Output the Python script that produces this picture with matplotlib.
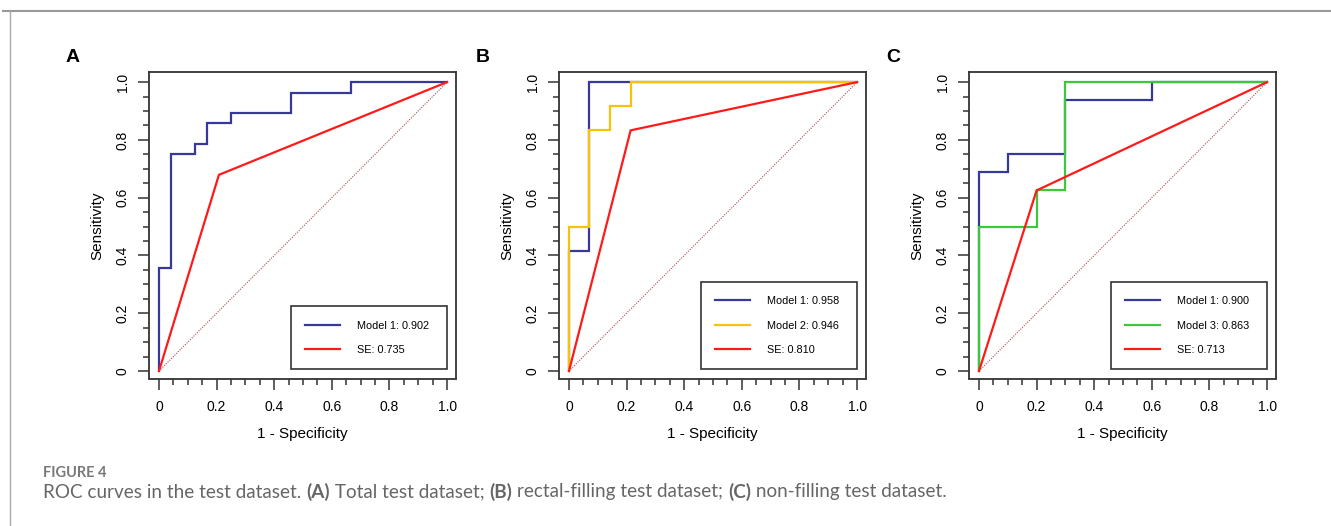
import matplotlib
matplotlib.use("Agg")
import matplotlib.pyplot as plt
from matplotlib.lines import Line2D
import numpy as np

plt.rcParams['font.family'] = ['Liberation Sans', 'DejaVu Sans']

# ---- data (1 - specificity, sensitivity) ----
# panel A: total test dataset
a_m1_fpr = [0, 0, 0.042, 0.042, 0.125, 0.125, 0.167, 0.167, 0.25, 0.25, 0.458, 0.458, 0.667, 0.667, 1.0]
a_m1_tpr = [0, 0.357, 0.357, 0.75, 0.75, 0.786, 0.786, 0.857, 0.857, 0.893, 0.893, 0.964, 0.964, 1.0, 1.0]
a_se_fpr = [0, 0.208, 1.0]
a_se_tpr = [0, 0.679, 1.0]

# panel B: rectal-filling test dataset
b_m1_fpr = [0, 0, 0.071, 0.071, 1.0]
b_m1_tpr = [0, 0.417, 0.417, 1.0, 1.0]
b_m2_fpr = [0, 0, 0.071, 0.071, 0.143, 0.143, 0.214, 0.214, 1.0]
b_m2_tpr = [0, 0.5, 0.5, 0.833, 0.833, 0.917, 0.917, 1.0, 1.0]
b_se_fpr = [0, 0.214, 1.0]
b_se_tpr = [0, 0.833, 1.0]

# panel C: non-filling test dataset
c_m1_fpr = [0, 0, 0.1, 0.1, 0.3, 0.3, 0.6, 0.6, 1.0]
c_m1_tpr = [0, 0.6875, 0.6875, 0.75, 0.75, 0.9375, 0.9375, 1.0, 1.0]
c_m3_fpr = [0, 0, 0.2, 0.2, 0.3, 0.3, 1.0]
c_m3_tpr = [0, 0.5, 0.5, 0.625, 0.625, 1.0, 1.0]
c_se_fpr = [0, 0.2, 1.0]
c_se_tpr = [0, 0.625, 1.0]

auc_labels_a = ["Model 1: 0.902", "SE: 0.735"]
auc_labels_b = ["Model 1: 0.958", "Model 2: 0.946", "SE: 0.810"]
auc_labels_c = ["Model 1: 0.900", "Model 3: 0.863", "SE: 0.713"]

panel_letters = ["A", "B", "C"]
major_ticks = [0, 0.2, 0.4, 0.6, 0.8, 1.0]
tick_labels = ["0", "0.2", "0.4", "0.6", "0.8", "1.0"]

BLUE = '#36399a'
GOLD = '#f9c20a'
GREEN = '#3cc83c'
RED = '#ff1a1a'
DIAG = '#a85050'
DARK = '#333333'

fig = plt.figure(figsize=(13.31, 5.26), dpi=100)

lefts = [149 / 1331, 559 / 1331, 969 / 1331]
bottom = (526 - 378.5) / 526
width = 307 / 1331
height = 306.5 / 526

panels = [
    [(a_m1_fpr, a_m1_tpr, BLUE), (a_se_fpr, a_se_tpr, RED)],
    [(b_m1_fpr, b_m1_tpr, BLUE), (b_m2_fpr, b_m2_tpr, GOLD), (b_se_fpr, b_se_tpr, RED)],
    [(c_m1_fpr, c_m1_tpr, BLUE), (c_m3_fpr, c_m3_tpr, GREEN), (c_se_fpr, c_se_tpr, RED)],
]
legend_labels = [auc_labels_a, auc_labels_b, auc_labels_c]

for i, curves in enumerate(panels):
    ax = fig.add_axes([lefts[i], bottom, width, height])
    ax.plot([0, 1], [0, 1], color=DIAG, lw=0.8, ls=(0, (1, 1.2)), zorder=1)
    handles = []
    for fpr, tpr, col in curves:
        h, = ax.plot(fpr, tpr, color=col, lw=1.6, solid_joinstyle='miter', zorder=2)
        handles.append(h)
    ax.set_xlim(-0.0347, 1.031)
    ax.set_ylim(-0.026, 1.035)

    ax.set_xticks(major_ticks)
    ax.set_xticklabels(tick_labels)
    ax.set_yticks(major_ticks)
    ax.set_yticklabels(tick_labels, rotation=90, va='center')
    ax.set_xticks(np.arange(0, 1.001, 0.05), minor=True)
    ax.set_yticks(np.arange(0, 1.001, 0.05), minor=True)
    ax.tick_params(which='major', length=7.8, width=1.1, color=DARK, labelsize=10, pad=8)
    ax.tick_params(axis='y', which='major', pad=6)
    ax.tick_params(which='minor', length=4.2, width=1.1, color=DARK)
    for sp in ax.spines.values():
        sp.set_color(DARK)
        sp.set_linewidth(1.3)

    ax.set_xlabel("1 - Specificity", fontsize=11)
    ax.set_ylabel("Sensitivity", fontsize=11)
    ax.xaxis.set_label_coords(0.5, -0.158)
    ax.yaxis.set_label_coords(-0.144, 0.5)

    ax.legend(handles, legend_labels[i], loc='lower left',
              bbox_to_anchor=(0.458, 0.006, 0.542, 0.2), bbox_transform=ax.transData,
              mode='expand', borderaxespad=0, fontsize=7.8, frameon=True, fancybox=False,
              edgecolor=DARK, framealpha=1, handlelength=3.2, handletextpad=1.6,
              labelspacing=1.35, borderpad=1.3)
    ax.get_legend().get_frame().set_linewidth(1.2)

    fig.text((lefts[i] * 1331 - 76) / 1331, 1 - 58 / 526, panel_letters[i],
             fontsize=14, fontweight='bold', ha='center', va='center')

# page frame lines
fig.add_artist(Line2D([3 / 1331, 1], [1 - 11 / 526] * 2, color='#999999', lw=1.5))
fig.add_artist(Line2D([10 / 1331] * 2, [0, 1 - 11 / 526], color='#aaaaaa', lw=1.0))

# caption
cap_font = ['Lato', 'DejaVu Sans']
fig.text(43 / 1331, 1 - 473 / 526, "FIGURE 4", fontsize=10.5, family=cap_font,
         fontweight='bold', color='#7a7a7a', va='center')

pieces = [("ROC curves in the test dataset. ", 'normal'), ("(A)", 'bold'),
          (" Total test dataset; ", 'normal'), ("(B)", 'bold'),
          (" rectal-filling test dataset; ", 'normal'), ("(C)", 'bold'),
          (" non-filling test dataset.", 'normal')]
renderer = fig.canvas.get_renderer()
x = 43
for txt, wt in pieces:
    t = fig.text(x / 1331, 1 - 492 / 526, txt, fontsize=13.6, family=cap_font,
                 fontweight=wt, color='#666666', va='center')
    x += t.get_window_extent(renderer).width

fig.savefig("out.png", dpi=100)
